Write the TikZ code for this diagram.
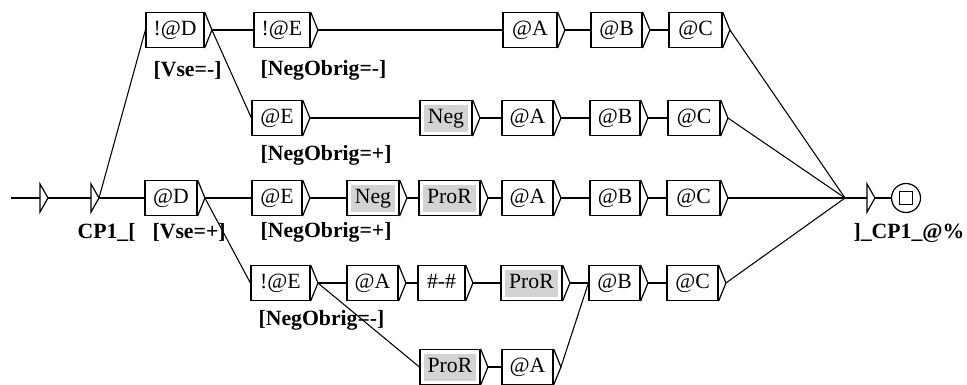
\documentclass[tikz,border=0pt]{standalone}
\usepackage{fontspec}
\setmainfont{Liberation Serif}
\definecolor{boxgray}{HTML}{D3D3D3}
\newcommand\ubox[6][]{%
  \node[box,#1,minimum width={(#4-#3)*0.75pt}] (#2) at ({(#3+#4)/2},#5) {#6};
  \coordinate (#2t) at ([xshift=5.5pt]#2.east);
  \draw (#2.north east) -- (#2t) -- (#2.south east);}
\newcommand\etri[3]{%
  \coordinate (#1) at (#2,#3);
  \coordinate (#1t) at ([xshift=6pt]#1);
  \draw ([yshift=10.5pt]#1) -- (#1t) -- ([yshift=-10.5pt]#1) -- cycle;}
\begin{document}
\begin{tikzpicture}[x=0.75pt,y=-0.75pt,line width=0.9pt,
  box/.style={draw,fill=white,inner sep=0pt,minimum height=26.25pt,text height=11pt,text depth=3.4pt,font=\fontsize{16.3}{18}\selectfont},
  grey/.style={path picture={\fill[boxgray] ([shift={(3pt,-3pt)}]path picture bounding box.north west) rectangle ([shift={(-3pt,3pt)}]path picture bounding box.south east);}},
  lab/.style={anchor=west,inner sep=0pt,font=\bfseries\fontsize{16.3}{18}\selectfont},
  conn/.style={line width=0.8pt}]
\useasboundingbox (0,0) rectangle (967,385);
% row 1
\ubox{r1D}{146}{204}{30}{!@D}
\ubox{r1E}{254}{310}{30}{!@E}
\ubox{r1A}{503}{557}{30}{@A}
\ubox{r1B}{591}{642}{30}{@B}
\ubox{r1C}{669}{722}{30}{@C}
% row 2
\ubox{r2E}{252}{302}{118}{@E}
\ubox[grey]{r2N}{420}{472}{118}{Neg}
\ubox{r2A}{502}{553}{118}{@A}
\ubox{r2B}{590}{640}{118}{@B}
\ubox{r2C}{668}{720}{118}{@C}
% row 3
\coordinate (start) at (11,198);
\etri{ini}{40}{198}
\etri{cp}{91}{198}
\ubox{r3D}{145}{197}{198}{@D}
\ubox{r3E}{252}{302}{198}{@E}
\ubox[grey]{r3N}{347}{399}{198}{Neg}
\ubox[grey]{r3P}{419}{480}{198}{ProR}
\ubox{r3A}{502}{553}{198}{@A}
\ubox{r3B}{590}{640}{198}{@B}
\ubox{r3C}{667}{720}{198}{@C}
\coordinate (cv) at (845,198);
\etri{fe}{867}{198}
\node[draw,circle,minimum size=21.75pt,inner sep=0pt] (fin) at (906,198) {};
\node[draw,minimum size=9.75pt,inner sep=0pt,line width=0.8pt] (finsq) at (fin) {};
% row 4
\ubox{r4E}{251}{310}{283}{!@E}
\ubox{r4A}{347}{398}{283}{@A}
\ubox{r4H}{418}{465}{283}{\#-\#}
\ubox[grey]{r4P}{501}{562}{283}{ProR}
\ubox{r4B}{589}{640}{283}{@B}
\ubox{r4C}{667}{718}{283}{@C}
% row 5
\ubox[grey]{r5P}{420}{480}{367}{ProR}
\ubox{r5A}{502}{553}{367}{@A}
% connectors
\begin{scope}[conn]
\draw (start) -- (ini);
\draw (init) -- (cp);
\draw (cpt) -- (r1D.west);
\draw (cpt) -- (r3D.west);
\draw (r1Dt) -- (r1E.west);
\draw (r1Dt) -- (r2E.west);
\draw (r1Et) -- (r1A.west);
\draw (r1At) -- (r1B.west);
\draw (r1Bt) -- (r1C.west);
\draw (r2Et) -- (r2N.west);
\draw (r2Nt) -- (r2A.west);
\draw (r2At) -- (r2B.west);
\draw (r2Bt) -- (r2C.west);
\draw (r3Dt) -- (r3E.west);
\draw (r3Dt) -- (r4E.west);
\draw (r3Et) -- (r3N.west);
\draw (r3Nt) -- (r3P.west);
\draw (r3Pt) -- (r3A.west);
\draw (r3At) -- (r3B.west);
\draw (r3Bt) -- (r3C.west);
\draw (r4Et) -- (r4A.west);
\draw (r4Et) -- (r5P.west);
\draw (r4At) -- (r4H.west);
\draw (r4Ht) -- (r4P.west);
\draw (r4Pt) -- (r4B.west);
\draw (r5Pt) -- (r5A.west);
\draw (r5At) -- (r4B.west);
\draw (r4Bt) -- (r4C.west);
\draw (r1Ct) -- (cv);
\draw (r2Ct) -- (cv);
\draw (r3Ct) -- (cv);
\draw (r4Ct) -- (cv);
\draw (cv) -- (fe);
\draw (fet) -- (fin.west);
\end{scope}
% labels
\node[lab] (l1) at (77,232) {CP1\_[};
\node[lab] (l2) at (153,70) {[Vse=-]};
\node[lab] (l3) at (260,70) {[NegObrig=-]};
\node[lab] (l4) at (260,155) {[NegObrig=+]};
\node[lab] (l5) at (152,232) {[Vse=+]};
\node[lab] (l6) at (260,232) {[NegObrig=+]};
\node[lab] (l7) at (258,320) {[NegObrig=-]};
\node[lab] (l8) at (853,233) {]\_CP1\_@\%};
\end{tikzpicture}
\end{document}
